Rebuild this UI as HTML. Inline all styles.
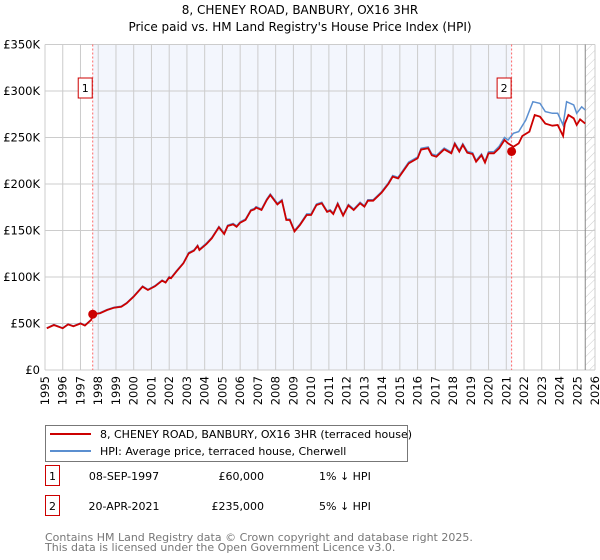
<!DOCTYPE html>
<html><head><meta charset="utf-8"><style>
body{margin:0;background:#fff;width:600px;height:560px;overflow:hidden;font-family:"DejaVu Sans","Liberation Sans",sans-serif;}
svg{position:absolute;left:0;top:0}
</style></head><body>
<svg id="c" width="600" height="560" xmlns="http://www.w3.org/2000/svg"></svg>
<script>
const years=[1995,1996,1997,1998,1999,2000,2001,2002,2003,2004,2005,2006,2007,2008,2009,2010,2011,2012,2013,2014,2015,2016,2017,2018,2019,2020,2021,2022,2023,2024,2025,2026];
const yTicks=[0,50,100,150,200,250,300,350];
const yTickLabels=["£0","£50K","£100K","£150K","£200K","£250K","£300K","£350K"];
const redT=[1995.1,1995.5,1996.0,1996.3,1996.6,1997.0,1997.25,1997.6,1997.7,1998.1,1998.5,1998.9,1999.3,1999.6,2000.0,2000.5,2000.8,2001.2,2001.6,2001.8,2002.0,2002.1,2002.4,2002.8,2003.1,2003.4,2003.6,2003.7,2004.1,2004.4,2004.8,2005.1,2005.3,2005.6,2005.8,2006.0,2006.3,2006.6,2006.8,2006.9,2007.2,2007.5,2007.7,2008.1,2008.35,2008.6,2008.8,2009.06,2009.37,2009.75,2010.0,2010.3,2010.6,2010.9,2011.07,2011.25,2011.5,2011.8,2012.1,2012.4,2012.76,2013.0,2013.2,2013.5,2013.97,2014.35,2014.6,2014.9,2015.5,2016.0,2016.2,2016.6,2016.8,2017.06,2017.5,2017.9,2018.1,2018.35,2018.55,2018.8,2019.1,2019.3,2019.6,2019.8,2020.0,2020.3,2020.6,2020.9,2021.1,2021.4,2021.7,2021.9,2022.3,2022.6,2022.9,2023.2,2023.6,2023.9,2024.2,2024.3,2024.5,2024.8,2024.97,2025.16,2025.45];
const redV=[44.8,48.4,44.8,49,47,50,47.7,53.8,60,61,64.5,67,68,71.7,78.9,89.6,86,90,96,94,99.6,98.6,105.7,114.7,125.4,128.3,133.3,129,135.5,141.6,153.4,146.2,154.8,156.6,154,158.4,161.3,171.3,172.8,174.6,172,182.8,188.2,178.1,182,161.3,161.3,149,156,166.7,166.7,177.4,179.2,170,171.3,167.7,178.5,166,177,172,179.2,175.6,182,182,190.7,200,207.9,206,222.2,227.6,237,238.4,231,229.4,237.3,233,243,234.8,242,233.7,232.3,224,231,223,233,233,238.4,247.3,243.7,240,243.7,251.6,256.3,274.2,272.4,265,262.7,263.4,251.6,265,274.2,270.6,263.4,269.5,265];
const hpiT=[1995.1,1995.5,1996.0,1996.3,1996.6,1997.0,1997.25,1997.6,1997.9,1998.1,1998.5,1998.9,1999.3,1999.6,2000.0,2000.5,2000.8,2001.2,2001.6,2001.8,2002.0,2002.1,2002.4,2002.8,2003.1,2003.4,2003.6,2003.7,2004.1,2004.4,2004.8,2005.1,2005.3,2005.6,2005.8,2006.0,2006.3,2006.6,2006.8,2006.9,2007.2,2007.5,2007.7,2008.1,2008.35,2008.6,2008.8,2009.06,2009.37,2009.75,2010.0,2010.3,2010.6,2010.9,2011.07,2011.25,2011.5,2011.8,2012.1,2012.4,2012.76,2013.0,2013.2,2013.5,2013.97,2014.35,2014.6,2014.9,2015.5,2016.0,2016.2,2016.6,2016.8,2017.06,2017.5,2017.9,2018.1,2018.35,2018.55,2018.8,2019.1,2019.3,2019.6,2019.8,2020.0,2020.3,2020.6,2020.9,2021.1,2021.4,2021.7,2022.1,2022.5,2022.9,2023.2,2023.6,2023.9,2024.2,2024.4,2024.8,2024.97,2025.25,2025.45];
const hpiV=[45.3,48.8,45.3,49.4,47.4,50.4,48.1,54.2,60.8,61.6,65,67.5,68.5,72.2,79.5,90.2,86.6,90.6,96.7,94.6,100.3,99.3,106.4,115.4,126.2,129.1,134.1,129.8,136.4,142.5,154.3,147.1,155.7,157.6,154.9,159.4,162.3,172.3,173.8,175.6,173,183.9,189.3,179.2,183.1,162.3,162.3,150,157,167.8,167.8,178.5,180.3,171,172.3,168.7,179.6,167,178,173,180.3,176.6,183,183,191.8,201.2,209.1,207.2,223.5,229,238.4,239.8,232.3,230.7,238.6,234.3,244.3,236.1,243.3,235,233.6,225.3,232.3,224.3,234.5,234.8,240.5,250,247.3,254.5,256.3,268.8,288.5,286.7,277.8,276,276,263.4,288.5,285,276,283,279.6];
const sales=[[1997.69,60,"1"],[2021.3,235,"2"]];

const L=45,R=595,T=44.5,B=370,Y0=1995,Y1=2026,VMAX=350;
const X=t=>L+(t-Y0)*(R-L)/(Y1-Y0);
const Yv=v=>B-v*(B-T)/VMAX;
const NS="http://www.w3.org/2000/svg";
const svg=document.getElementById('c');
function mk(tag,attrs,parent){const e=document.createElementNS(NS,tag);for(const k in attrs)e.setAttribute(k,attrs[k]);(parent||svg).appendChild(e);return e;}
const defs=mk('defs',{});
const pat=mk('pattern',{id:'h',width:6,height:6,patternUnits:'userSpaceOnUse',patternTransform:'rotate(45)'},defs);
mk('line',{x1:0,y1:0,x2:0,y2:6,stroke:'#ccc','stroke-width':1},pat);
let t=mk('text',{x:300,y:14,'text-anchor':'middle','font-size':12,fill:'#000'});t.textContent="8, CHENEY ROAD, BANBURY, OX16 3HR";

t=mk('text',{x:300,y:31,'text-anchor':'middle','font-size':12,fill:'#000'});t.textContent="Price paid vs. HM Land Registry's House Price Index (HPI)";

let r=mk('rect',{x:X(sales[0][0]),y:T,width:X(sales[1][0])-X(sales[0][0]),height:B-T,fill:'#f3f6fd'});

const hs=2025.45;
r=mk('rect',{x:X(hs),y:T,width:R-X(hs),height:B-T,fill:'url(#h)'});

years.forEach(y=>{const l=mk('line',{x1:X(y),x2:X(y),y1:T,y2:B,stroke:'#ccc','stroke-width':1});

const tx=mk('text',{transform:`translate(${X(y)+4},${B+6}) rotate(-90)`,'text-anchor':'end','font-size':11.5,fill:'#000'});tx.textContent=y;
});
yTicks.forEach((v,i)=>{const l=mk('line',{x1:L,x2:R,y1:Yv(v),y2:Yv(v),stroke:'#ccc','stroke-width':1});

const tx=mk('text',{x:L-5,y:Yv(v)+4,'text-anchor':'end','font-size':11.5,fill:'#000'});tx.textContent=yTickLabels[i];
});
let vl=mk('line',{x1:X(hs),x2:X(hs),y1:T,y2:B,stroke:'#888','stroke-width':1});

sales.forEach(s=>{const l=mk('line',{x1:X(s[0]),x2:X(s[0]),y1:T,y2:B,stroke:'#f66','stroke-width':1,'stroke-dasharray':'2,2'});

const g=mk('g',{});
mk('rect',{x:X(s[0])-14.5,y:78,width:14,height:20,fill:'#fff',stroke:'#c00','stroke-width':1},g);
const tx=mk('text',{x:X(s[0])-7.5,y:92,'text-anchor':'middle','font-size':11,fill:'#000'},g);tx.textContent=s[2];});
function path(ts,vs){return ts.map((x,i)=>(i?'L':'M')+X(x).toFixed(1)+','+Yv(vs[i]).toFixed(1)).join('');}
let p=mk('path',{d:path(hpiT,hpiV),fill:'none',stroke:'#5b8fd0','stroke-width':1.5});

p=mk('path',{d:path(redT,redV),fill:'none',stroke:'#cc0000','stroke-width':1.8});

sales.forEach(s=>{const c=mk('circle',{cx:X(s[0]),cy:Yv(s[1]),r:4.5,fill:'#cc0000'});
});
const lg=mk('g',{});
mk('rect',{x:45.5,y:425.5,width:362,height:36,fill:'#fff',stroke:'#777','stroke-width':1},lg);
mk('line',{x1:50,x2:91,y1:434,y2:434,stroke:'#cc0000','stroke-width':2},lg);
mk('line',{x1:50,x2:91,y1:451,y2:451,stroke:'#5b8fd0','stroke-width':2},lg);
t=mk('text',{x:100,y:438,'font-size':11,fill:'#000'},lg);t.textContent="8, CHENEY ROAD, BANBURY, OX16 3HR (terraced house)";

t=mk('text',{x:100,y:455,'font-size':11,fill:'#000'},lg);t.textContent="HPI: Average price, terraced house, Cherwell";

const rows=[["1","08-SEP-1997","£60,000","1% ↓ HPI",486],["2","20-APR-2021","£235,000","5% ↓ HPI",516]];
rows.forEach(rw=>{const g=mk('g',{});
mk('rect',{x:45.5,y:rw[4]-20.5,width:14,height:20,fill:'#fff',stroke:'#c00','stroke-width':1},g);
let a=mk('text',{x:52.5,y:rw[4]-6,'text-anchor':'middle','font-size':11},g);a.textContent=rw[0];
a=mk('text',{x:124,y:rw[4]-6,'text-anchor':'middle','font-size':11},g);a.textContent=rw[1];
a=mk('text',{x:264,y:rw[4]-6,'text-anchor':'end','font-size':11},g);a.textContent=rw[2];
a=mk('text',{x:319,y:rw[4]-6,'font-size':11},g);a.textContent=rw[3];});
t=mk('text',{x:45,y:541,'font-size':11,fill:'#777'});t.textContent="Contains HM Land Registry data © Crown copyright and database right 2025.";

t=mk('text',{x:45,y:551,'font-size':11,fill:'#777'});t.textContent="This data is licensed under the Open Government Licence v3.0.";

</script>
</body></html>
